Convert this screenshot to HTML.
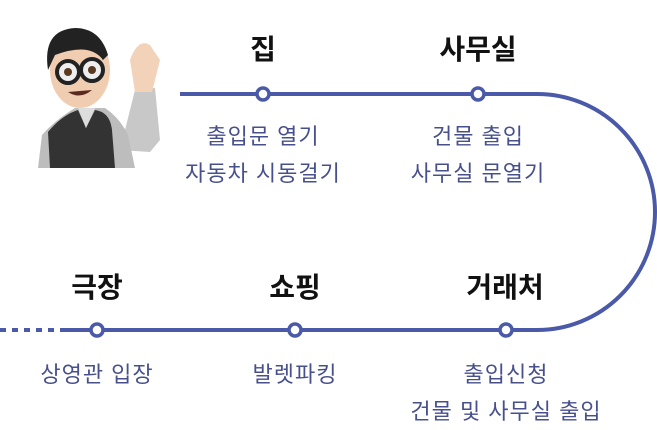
<!DOCTYPE html>
<html><head><meta charset="utf-8"><style>
body{margin:0;width:657px;height:424px;background:#fff;overflow:hidden;position:relative;font-family:"Liberation Sans","Noto Sans CJK KR",sans-serif}
.t{position:absolute;font-weight:bold;font-size:28px;line-height:38px;color:#111;transform:translateX(-50%);white-space:nowrap}
.s{position:absolute;font-size:22px;letter-spacing:1px;color:#47508c;transform:translateX(-50%);white-space:nowrap;text-align:center;line-height:37px}
</style></head><body>
<svg width="657" height="424" style="position:absolute;left:0;top:0">
<g fill="none" stroke="#4a5aa8" stroke-width="4">
<path d="M180 94 H537 A118 118 0 0 1 537 330 H60"/>
<path d="M0 330 H60" stroke-dasharray="6 6"/>
</g>
<g fill="#fff" stroke="#4a5aa8" stroke-width="3.5">
<circle cx="263" cy="94" r="6"/><circle cx="478" cy="94" r="6"/>
<circle cx="97" cy="330" r="6"/><circle cx="295" cy="330" r="6"/><circle cx="506" cy="330" r="6"/>
</g>
<g>
<path d="M135 90 L155 88 L160 140 L150 152 L120 150 Z" fill="#c8c8c8"/>
<path d="M130 60 Q138 38 150 45 L160 60 L152 92 L135 92 Z" fill="#f2d2b8"/>
<path d="M38 168 L42 135 Q55 120 75 108 L105 108 Q120 118 128 135 L135 168 Z" fill="#bdbdbd"/>
<path d="M50 168 L48 132 Q62 115 78 110 L86 128 L95 110 Q110 112 112 130 L115 168 Z" fill="#333"/>
<path d="M78 108 L86 128 L95 108 Z" fill="#ddd"/>
<ellipse cx="80" cy="70" rx="30" ry="38" fill="#f0cdb0"/>
<path d="M48 70 Q42 30 75 28 Q100 28 108 55 L103 60 Q90 42 55 55 Z" fill="#222"/>
<circle cx="68" cy="72" r="11" fill="#eee" stroke="#222" stroke-width="4"/>
<circle cx="92" cy="70" r="11" fill="#eee" stroke="#222" stroke-width="4"/>
<circle cx="68" cy="72" r="4" fill="#5a3a20"/><circle cx="92" cy="70" r="4" fill="#5a3a20"/>
<path d="M68 92 Q80 100 92 90 Z" fill="#5a2a20"/>
</g>
</svg>
<div class="t" style="left:263px;top:31px">집</div>
<div class="t" style="left:478px;top:31px">사무실</div>
<div class="t" style="left:97px;top:269px">극장</div>
<div class="t" style="left:295px;top:269px">쇼핑</div>
<div class="t" style="left:505px;top:269px">거래처</div>
<div class="s" style="left:263px;top:118px">출입문 열기<br>자동차 시동걸기</div>
<div class="s" style="left:478px;top:118px">건물 출입<br>사무실 문열기</div>
<div class="s" style="left:97px;top:356px">상영관 입장</div>
<div class="s" style="left:295px;top:356px">발렛파킹</div>
<div class="s" style="left:506px;top:356px">출입신청<br>건물 및 사무실 출입</div>
</body></html>
